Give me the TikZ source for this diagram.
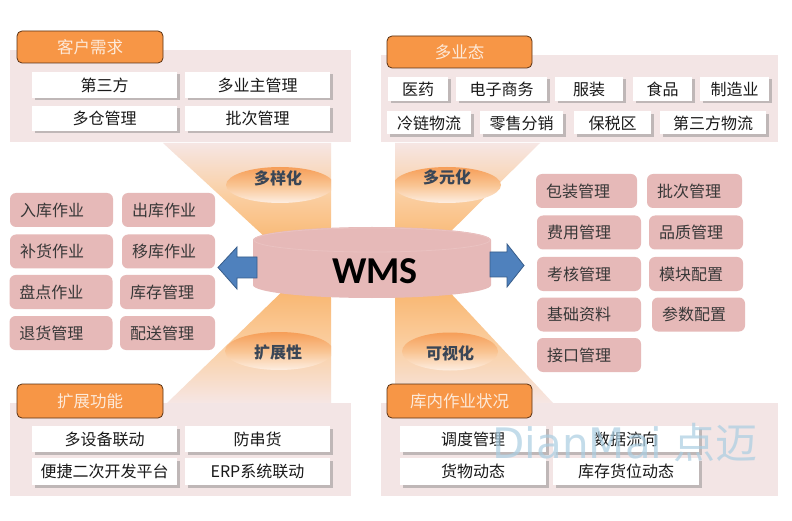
\documentclass[tikz,border=0pt]{standalone}
\usepackage{fontspec}
\setmainfont{Noto Sans CJK SC}
\newfontfamily\wmsfont{Carlito}
\newfontfamily\dvfont{DejaVu Sans}
\usetikzlibrary{shapes.geometric,shadows}
\definecolor{panelbg}{RGB}{243,229,229}
\definecolor{hdrfill}{RGB}{247,150,70}
\definecolor{hdrborder}{RGB}{90,50,20}
\definecolor{hdrtext}{RGB}{253,234,218}
\definecolor{cpink}{RGB}{230,185,184}
\definecolor{cyltop}{RGB}{234,194,193}
\definecolor{cpale}{RGB}{246,230,228}
\definecolor{corange}{RGB}{249,180,108}
\definecolor{cmid}{RGB}{250,206,160}
\definecolor{lbltop}{RGB}{246,158,88}
\definecolor{lblbot}{RGB}{253,238,226}
\definecolor{lblmid}{RGB}{249,196,146}
\definecolor{lbltext}{RGB}{58,70,86}
\definecolor{arrowfill}{RGB}{79,129,189}
\definecolor{arrowdraw}{RGB}{56,93,138}
\definecolor{wmark}{RGB}{170,206,226}
\definecolor{txt}{RGB}{25,25,25}
\definecolor{txtpink}{RGB}{55,55,55}
\begin{document}
\begin{tikzpicture}[x=1pt,y=-1pt,
  panel/.style={fill=panelbg, inner sep=0, minimum width=#1},
  hdrbox/.style={draw=hdrborder, line width=0.8pt, fill=hdrfill, rounded corners=5pt,
    text=hdrtext, font=\fontsize{16.5}{18}\selectfont, inner sep=0},
  wbox/.style={fill=white, inner sep=0, text=txt, font=\fontsize{16}{18}\selectfont,
    drop shadow={shadow xshift=2.5pt, shadow yshift=-2.5pt, opacity=0.45}},
  pbox/.style={fill=cpink, rounded corners=6pt, inner xsep=10pt, inner ysep=0,
    text width=#1, align=left, minimum height=34pt, text=txtpink,
    font=\fontsize{16}{18}\selectfont},
  lblell/.style={ellipse, inner sep=0, top color=lbltop, bottom color=lblbot, middle color=lblmid, minimum height=36pt},
  lbltxt/.style={text=lbltext, font=\bfseries\fontsize{16}{18}\selectfont, inner sep=0},
  blockarrow/.style={fill=arrowfill, draw=arrowdraw, line width=0.8pt, line join=miter},
]
\useasboundingbox (0,0) rectangle (792,521);
\fill[white] (0,0) rectangle (792,521);

% hourglass fans
\shade[top color=cpale, bottom color=corange, middle color=cmid]
  (163,143) -- (331,143) -- (331,250) -- (279,250) -- cycle;
\shade[top color=corange, bottom color=cpale, middle color=cmid]
  (289,285) -- (331,285) -- (331,403) -- (167,403) -- cycle;
\shade[top color=cpale, bottom color=corange, middle color=cmid]
  (395,143) -- (540,143) -- (432,250) -- (395,250) -- cycle;
\shade[top color=corange, bottom color=cpale, middle color=cmid]
  (395,285) -- (443,285) -- (553,403) -- (395,403) -- cycle;

% label ellipses
\begin{scope}
  \clip (0,0) rectangle (331,521);
  \node[lblell, minimum width=108pt] (e1) at (280,185) {};
  \node[lblell, minimum width=108pt, minimum height=38pt] (e3) at (279,351) {};
\end{scope}
\begin{scope}
  \clip (395,0) rectangle (792,521);
  \node[lblell, minimum width=108pt] (e2) at (447,185) {};
  \node[lblell, minimum width=96pt, minimum height=38pt] (e4) at (450,351.5) {};
\end{scope}
\node[lbltxt] (t1) at (278,178) {多样化};
\node[lbltxt] (t2) at (447,177) {多元化};
\node[lbltxt] (t3) at (278,352) {扩展性};
\node[lbltxt] (t4) at (450,353) {可视化};

% WMS cylinder
\fill[cpink] (253,240) -- (253,285) arc[start angle=180, end angle=0, x radius=119, y radius=13]
  -- (491,240) arc[start angle=0, end angle=-180, x radius=119, y radius=13] -- cycle;
\draw[cyltop, line width=0.8pt] (372,240) ellipse[x radius=118, y radius=12];
\node[font=\wmsfont\bfseries\fontsize{38}{40}\selectfont, text=black] (wms) at (375,271) {WMS};

% block arrows
\draw[blockarrow] (257,257) -- (237,257) -- (237,247) -- (218,267.5) -- (237,289) -- (237,278) -- (257,278) -- cycle;
\draw[blockarrow] (490,252) -- (507,252) -- (507,244) -- (524,265.5) -- (507,287) -- (507,277) -- (490,277) -- cycle;

% left pink boxes
\node[pbox=83pt] (l11) at (61.5,210) {入库作业};
\node[pbox=73pt] (l12) at (168.5,210) {出库作业};
\node[pbox=83pt] (l21) at (61.5,251.5) {补货作业};
\node[pbox=73pt] (l22) at (168.5,251.5) {移库作业};
\node[pbox=83pt] (l31) at (61,292) {盘点作业};
\node[pbox=75pt] (l32) at (167.5,292) {库存管理};
\node[pbox=83pt] (l41) at (61,333) {退货管理};
\node[pbox=75pt] (l42) at (167.5,333) {配送管理};

% right pink boxes
\node[pbox=81pt] (r11) at (586.5,191) {包装管理};
\node[pbox=75pt] (r12) at (694.5,191) {批次管理};
\node[pbox=84pt] (r21) at (589,232.5) {费用管理};
\node[pbox=74pt] (r22) at (696,232.5) {品质管理};
\node[pbox=84pt] (r31) at (589,274) {考核管理};
\node[pbox=74pt] (r32) at (696,274) {模块配置};
\node[pbox=84pt] (r41) at (589,314.5) {基础资料};
\node[pbox=73pt] (r42) at (698.5,314.5) {参数配置};
\node[pbox=84pt] (r51) at (589,355) {接口管理};

% panels
\node[panel=341pt, minimum height=92pt] (p1) at (180.5,96) {};
\node[panel=397pt, minimum height=87pt] (p2) at (579.5,98.5) {};
\node[panel=341pt, minimum height=93pt] (p3) at (180.5,449.5) {};
\node[panel=397pt, minimum height=93pt] (p4) at (579.5,449.5) {};

% headers
\node[hdrbox, minimum width=146pt, minimum height=32pt] (h1) at (90,47) {客户需求};
\node[hdrbox, minimum width=145pt, minimum height=32pt] (h2) at (459.5,52) {多业态};
\node[hdrbox, minimum width=146pt, minimum height=34pt] (h3) at (90,401) {扩展功能};
\node[hdrbox, minimum width=145pt, minimum height=34pt] (h4) at (459.5,401) {库内作业状况};

% top-left white boxes
\node[wbox, minimum width=145pt, minimum height=26pt] (a1) at (104.5,85) {第三方};
\node[wbox, minimum width=145pt, minimum height=26pt] (a2) at (257.5,85) {多业主管理};
\node[wbox, minimum width=145pt, minimum height=25pt] (a3) at (104.5,118.5) {多仓管理};
\node[wbox, minimum width=145pt, minimum height=25pt] (a4) at (257.5,118.5) {批次管理};

% top-right white boxes
\node[wbox, minimum width=60pt, minimum height=24pt] (b1) at (418,89) {医药};
\node[wbox, minimum width=91pt, minimum height=24pt] (b2) at (501.5,89) {电子商务};
\node[wbox, minimum width=68pt, minimum height=24pt] (b3) at (589,89) {服装};
\node[wbox, minimum width=59pt, minimum height=24pt] (b4) at (662.5,89) {食品};
\node[wbox, minimum width=69pt, minimum height=24pt] (b5) at (734.5,89) {制造业};
\node[wbox, minimum width=84pt, minimum height=23pt] (b6) at (429,123) {冷链物流};
\node[wbox, minimum width=83pt, minimum height=23pt] (b7) at (521.5,123) {零售分销};
\node[wbox, minimum width=77pt, minimum height=23pt] (b8) at (612.5,123) {保税区};
\node[wbox, minimum width=106pt, minimum height=23pt] (b9) at (713,123) {第三方物流};

% bottom-left white boxes
\node[wbox, minimum width=145pt, minimum height=26pt] (c1) at (104.5,439) {多设备联动};
\node[wbox, minimum width=145pt, minimum height=26pt] (c2) at (257.5,439) {防串货};
\node[wbox, minimum width=145pt, minimum height=27pt] (c3) at (104.5,471.5) {便捷二次开发平台};
\node[wbox, minimum width=145pt, minimum height=27pt] (c4) at (257.5,471.5) {ERP系统联动};

% bottom-right white boxes
\node[wbox, minimum width=146pt, minimum height=26pt] (d1) at (473,439) {调度管理};
\node[wbox, minimum width=146pt, minimum height=26pt] (d2) at (626,439) {数据流向};
\node[wbox, minimum width=146pt, minimum height=27pt] (d3) at (473,471.5) {货物动态};
\node[wbox, minimum width=146pt, minimum height=27pt] (d4) at (626,471.5) {库存货位动态};

% watermark
\node[anchor=base, text=wmark, opacity=0.7, inner sep=0] (wm) at (625,458)
  {{\dvfont\fontsize{42}{46}\selectfont DianMai}\hspace{11pt}{\fontsize{42}{46}\selectfont 点迈}};
\end{tikzpicture}
\end{document}
